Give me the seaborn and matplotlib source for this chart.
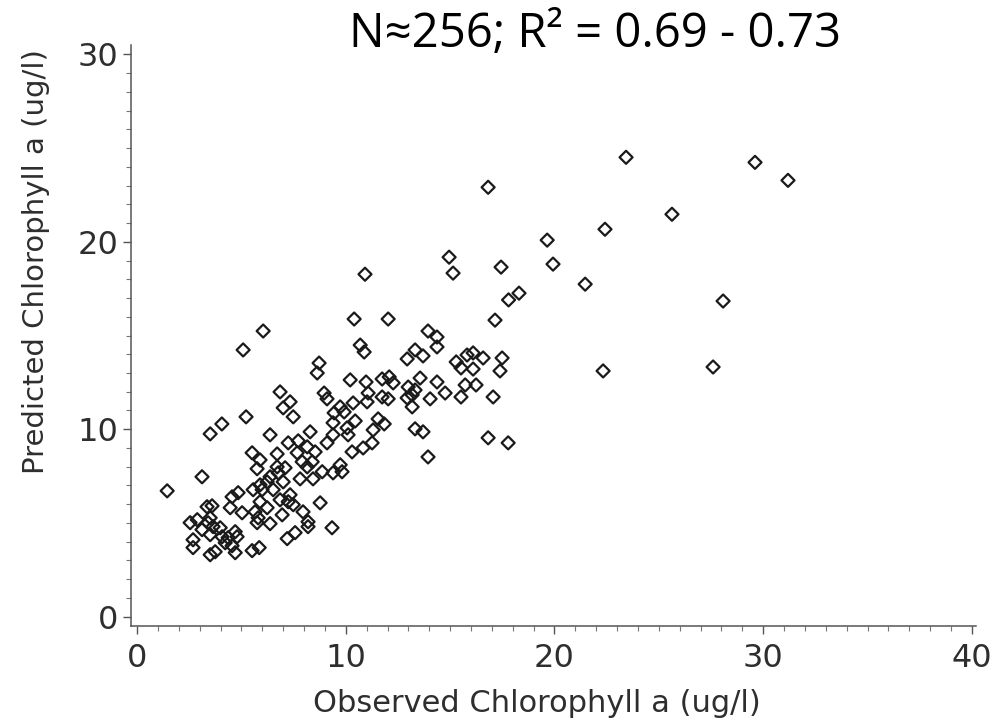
import numpy as np
import pandas as pd
import matplotlib
matplotlib.use("Agg")
import matplotlib.pyplot as plt
from matplotlib.ticker import MultipleLocator
import seaborn as sns

# observed vs predicted chlorophyll a (ug/l)
observed = [
    4.06, 3.50, 6.37, 8.29, 9.39, 9.39, 7.24, 7.72, 8.15, 8.53,
    9.10, 7.67, 5.51, 6.71, 5.89, 7.91, 8.39, 5.75, 6.71, 7.09,
    8.15, 8.87, 9.39, 3.11, 6.76, 6.37, 6.23, 7.00, 7.81, 8.43,
    1.44, 5.56, 5.99, 5.89, 6.52, 4.55, 4.84, 6.85, 7.33, 7.24,
    7.48, 5.89, 6.23, 8.77, 3.35, 3.59, 4.46, 5.03, 5.65, 6.95,
    7.95, 5.80, 5.75, 6.37, 8.19, 8.19, 3.50, 3.40, 2.54, 2.88,
    3.11, 3.64, 3.98, 3.50, 2.68, 4.07, 4.36, 4.79, 4.70, 4.22,
    2.68, 4.55, 7.19, 7.57, 9.34, 3.50, 3.74, 4.70, 5.51, 5.85,
    6.04, 10.40, 12.03, 13.94, 14.37, 14.37, 10.69, 10.88, 13.32, 12.94,
    13.70, 8.72, 8.63, 10.21, 10.97, 11.74, 12.08, 12.27, 13.56, 14.37,
    12.99, 13.32, 6.85, 8.96, 11.07, 13.18, 7.33, 7.00, 9.10, 11.74,
    12.03, 11.02, 12.94, 14.04, 10.35, 13.18, 7.48, 9.73, 9.44, 9.92,
    10.45, 11.55, 11.84, 10.06, 11.31, 13.32, 13.70, 10.11, 11.26, 10.83,
    10.30, 13.94, 9.73, 9.82,
    17.15, 15.29, 15.52, 15.81, 16.10, 16.58, 16.10, 17.49, 17.39, 14.76,
    15.72, 16.24, 15.52, 17.06, 16.82, 17.78,
    5.08, 5.22, 14.95, 15.14, 10.92, 17.44, 17.80, 18.30, 16.82, 19.65,
    19.93, 21.47, 22.42, 23.43, 22.33, 25.63, 27.60, 28.08, 29.61, 31.19,
]
predicted = [
    10.28, 9.75, 9.70, 9.86, 10.34, 9.70, 9.27, 9.38, 9.06, 8.79,
    9.27, 8.74, 8.74, 8.68, 8.36, 8.26, 8.26, 7.89, 7.99, 7.94,
    7.99, 7.73, 7.67, 7.46, 7.67, 7.46, 7.19, 7.19, 7.35, 7.35,
    6.71, 6.77, 6.77, 7.03, 6.77, 6.39, 6.61, 6.23, 6.50, 6.13,
    5.97, 6.13, 5.81, 6.07, 5.86, 5.91, 5.81, 5.54, 5.59, 5.43,
    5.59, 5.27, 5.01, 4.96, 5.06, 4.80, 5.27, 5.01, 5.01, 5.17,
    4.64, 4.80, 4.74, 4.37, 4.10, 4.26, 4.21, 4.26, 4.53, 3.94,
    3.68, 3.78, 4.16, 4.48, 4.74, 3.30, 3.46, 3.41, 3.52, 3.68,
    15.24, 15.88, 15.88, 15.24, 14.92, 14.39, 14.49, 14.12, 14.23, 13.75,
    13.91, 13.53, 13.00, 12.63, 12.52, 12.68, 12.79, 12.47, 12.73, 12.52,
    12.25, 12.09, 11.99, 11.93, 11.93, 11.83, 11.46, 11.14, 11.62, 11.72,
    11.62, 11.46, 11.67, 11.62, 11.40, 11.19, 10.66, 11.19, 10.87, 10.92,
    10.44, 10.55, 10.28, 10.07, 9.96, 10.02, 9.86, 9.70, 9.27, 9.00,
    8.79, 8.52, 8.10, 7.73,
    15.82, 13.59, 13.27, 13.96, 14.07, 13.80, 13.21, 13.80, 13.11, 11.93,
    12.36, 12.36, 11.72, 11.72, 9.54, 9.27,
    14.23, 10.66, 19.18, 18.33, 18.27, 18.65, 16.90, 17.26, 22.91, 20.09,
    18.81, 17.74, 20.67, 24.51, 13.11, 21.47, 13.32, 16.84, 24.24, 23.28,
]

x_ticks = [0, 10, 20, 30, 40]
y_ticks = [0, 10, 20, 30]
title_text = "N≈256; R² = 0.69 - 0.73"

df = pd.DataFrame({"observed": observed, "predicted": predicted})

sns.set_style("ticks")
plt.rcParams["font.family"] = ["DejaVu Sans"]

fig = plt.figure(figsize=(9.99, 7.27), dpi=100)
ax = fig.add_axes([0.131, 0.139, 0.846, 0.799])

sns.scatterplot(data=df, x="observed", y="predicted", ax=ax,
                marker="D", s=44, facecolor="none", edgecolor="#1a1a1a",
                linewidth=1.6, legend=False)

ax.set_xlim(-0.3, 40.2)
ax.set_ylim(-0.5, 30.5)
ax.set_xticks(x_ticks)
ax.set_yticks(y_ticks)
ax.xaxis.set_minor_locator(MultipleLocator(1))
ax.yaxis.set_minor_locator(MultipleLocator(1))

text_col = "#2e2e2e"
ax.tick_params(axis="both", which="major", length=6, width=1.0, color="#555555",
               labelsize=23, labelcolor=text_col, pad=3)
ax.tick_params(axis="x", which="major", pad=6)
ax.tick_params(axis="both", which="minor", length=3.5, width=0.8, color="#777777")

for side in ["top", "right"]:
    ax.spines[side].set_visible(False)
for side in ["left", "bottom"]:
    ax.spines[side].set_color("#555555")
    ax.spines[side].set_linewidth(1.1)

ax.set_xlabel("Observed Chlorophyll a (ug/l)", fontsize=22, color=text_col)
ax.set_ylabel("Predicted Chlorophyll a (ug/l)", fontsize=21, color=text_col)
ax.xaxis.set_label_coords(0.48, -0.108)
ax.yaxis.set_label_coords(-0.096, 0.627)

fig.text(0.596, 0.953, title_text, ha="center", va="center", fontsize=34,
         color="black", family=["Open Sans", "DejaVu Sans"])

fig.savefig("out.png", dpi=100, facecolor="white")
